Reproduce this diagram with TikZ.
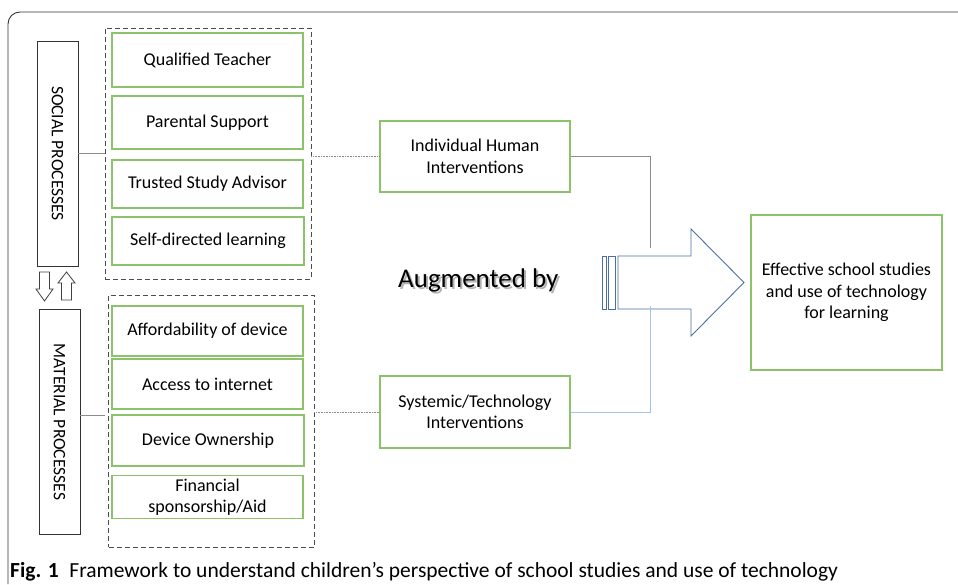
\documentclass[tikz,border=0pt]{standalone}
\usepackage{fontspec}
\setmainfont{Carlito}
\definecolor{boxgreen}{HTML}{8CC26A}
\definecolor{arrowblue}{HTML}{4A6EA8}
\definecolor{lineblue}{HTML}{A8C1E8}
\definecolor{linegray}{HTML}{8C8C8C}
\newcommand{\shadowtext}[1]{\rlap{\kern2pt\raisebox{-2.5pt}{\color{black!30}#1}}#1}
\tikzset{
  factor/.style={draw=boxgreen, line width=1.1pt, minimum width=191, inner sep=0pt,
    align=center, font=\fontsize{18}{21.5}\selectfont},
  process/.style={draw=black!80, line width=0.9pt, rotate=-90, minimum width=225,
    minimum height=41, inner sep=0pt, font=\fontsize{17.5}{20}\selectfont},
  group/.style={draw=black!70, line width=0.9pt, dash pattern=on 5pt off 3pt, inner sep=0pt},
  link/.style={draw=linegray, line width=0.8pt},
  dotlink/.style={draw=linegray, line width=0.6pt, dash pattern=on 0.8pt off 0.8pt},
  blockarrow/.style={draw=black!75, line width=0.8pt}
}
\begin{document}
\begin{tikzpicture}[x=1pt,y=-1pt]
\useasboundingbox (0,0) rectangle (958,584);
\draw[black!80, line width=0.9pt, rounded corners=12] (958,12) -- (8,12) -- (8,584);
\node[process] (soc) at (57.5,153.5) {SOCIAL PROCESSES};
\node[process] (mat) at (59.5,422) {MATERIAL PROCESSES};
\draw[blockarrow] (39.5,272) -- (49.5,272) -- (49.5,289) -- (53,289) -- (44.5,301) -- (36,289) -- (39.5,289) -- cycle;
\draw[blockarrow] (61.5,300) -- (71.5,300) -- (71.5,283) -- (75,283) -- (66.5,272) -- (58,283) -- (61.5,283) -- cycle;
\node[group, minimum width=206, minimum height=251] (sgroup) at (208,153.5) {};
\node[group, minimum width=205.5, minimum height=252] (mgroup) at (211.25,421) {};
\node[factor, minimum height=54] (qt) at (207.5,60) {Qualified Teacher};
\node[factor, minimum height=53] (ps) at (207.5,122.5) {Parental Support};
\node[factor, minimum height=48] (tsa) at (207.5,184) {Trusted Study Advisor};
\node[factor, minimum height=48, minimum width=192] (sdl) at (208,241) {Self-directed learning};
\node[factor, minimum height=50] (afd) at (207.5,331) {Affordability of device};
\node[factor, minimum height=50] (ati) at (207.5,384) {Access to internet};
\node[factor, minimum height=51, minimum width=192] (dvo) at (208,440.5) {Device Ownership};
\node[factor, minimum height=43] (fsa) at (207.5,497) {Financial\\sponsorship/Aid};
\node[factor, minimum width=190, minimum height=71] (ihi) at (475,156.5) {Individual Human\\Interventions};
\node[factor, minimum width=190, minimum height=72] (sti) at (475,412) {Systemic/Technology\\Interventions};
\node[factor, minimum height=155] (eff) at (846.5,292.5) {Effective school studies\\and use of technology\\for learning};
\draw[link] (soc.north) -- (soc.north -| sgroup.west);
\draw[link] (mat.north |- 0,415) -- (sgroup.west |- 0,415) coordinate (mleft);
\draw[dotlink] (sgroup.east |- ihi.west) -- (ihi.west);
\draw[dotlink] (mgroup.east |- sti.west) -- (sti.west);
\coordinate (toparrow) at (650,248);
\coordinate (botarrow) at (650,306);
\draw[arrowblue, line width=0.9pt] (602,256) rectangle (606,309);
\draw[arrowblue, line width=0.9pt] (608.5,256) rectangle (615,309);
\draw[arrowblue, line width=0.9pt] (618,256) -- (691,256) -- (691,229) -- (744,282.5) -- (691,336) -- (691,309) -- (618,309) -- cycle;
\draw[link] (ihi.east) -| (toparrow);
\draw[lineblue, line width=0.9pt] (sti.east) -| (botarrow);
\node[anchor=base west, inner sep=0pt, font=\fontsize{27}{27}\selectfont] (aug) at (398,287) {\shadowtext{Augmented by}};
\node[anchor=base west, inner sep=0pt, font=\fontsize{21.5}{21.5}\selectfont] (caption) at (10,577) {\textbf{Fig. 1}\hspace{0.5em}Framework to understand children’s perspective of school studies and use of technology};
\end{tikzpicture}
\end{document}
